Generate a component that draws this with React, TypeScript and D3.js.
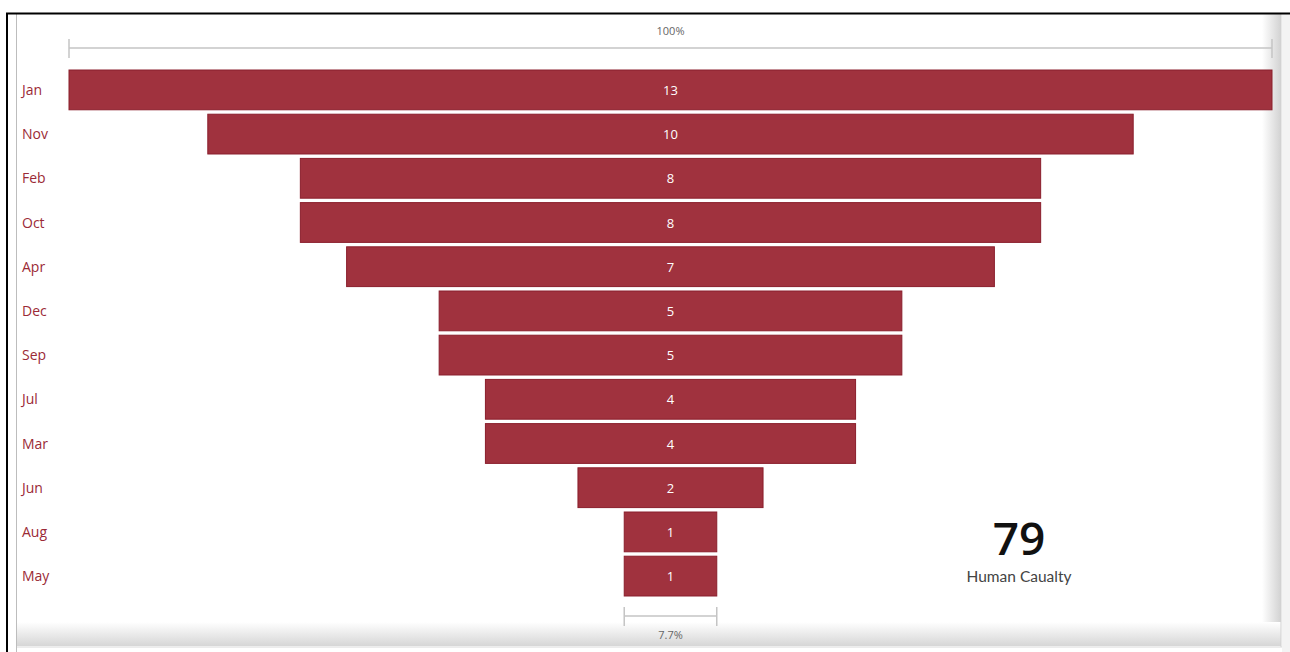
import React from "react";
import * as d3 from "d3";

const months = ["Jan", "Nov", "Feb", "Oct", "Apr", "Dec", "Sep", "Jul", "Mar", "Jun", "Aug", "May"];
const values = [13, 10, 8, 8, 7, 5, 5, 4, 4, 2, 1, 1];
const cardValue = 79;
const cardLabel = "Human Caualty";

const W = 1290;
const H = 652;
const FONT = "'Open Sans', 'Noto Sans', sans-serif";

export default function App() {
  const cx = 670.5;
  const maxV = d3.max(values) as number;
  const minV = d3.min(values) as number;
  const w = d3.scaleLinear().domain([0, maxV]).range([0, 1203]);
  const y = d3.scaleBand<string>().domain(months).range([67.8, 598.2]).paddingInner(0.1).paddingOuter(0.05);
  const fmt = (v: number) => `${+(v * 100).toFixed(1)}%`;
  const topPct = fmt(maxV / maxV);
  const botPct = fmt(minV / maxV);
  const lastIdx = values.length - 1;
  const botW = w(values[lastIdx]);
  const gray = "#c4c4c4";

  return (
    <svg width={W} height={H} style={{ position: "absolute", left: 0, top: 0, background: "#fff" }} fontFamily={FONT}>
      <defs>
        <linearGradient id="shB" x1="0" y1="0" x2="0" y2="1">
          <stop offset="0" stopColor="#fff" />
          <stop offset="1" stopColor="#d6d6d6" />
        </linearGradient>
        <linearGradient id="shR" x1="0" y1="0" x2="1" y2="0">
          <stop offset="0" stopColor="#fff" />
          <stop offset="1" stopColor="#d2d2d2" />
        </linearGradient>
      </defs>
      {/* frame */}
      <rect x={0} y={0} width={W} height={H} fill="#fff" />
      <rect x={1282} y={14} width={8} height={638} fill="#f3f3f3" />
      <rect x={1262} y={14} width={19} height={632} fill="url(#shR)" />
      <rect x={17} y={622} width={1264} height={24} fill="url(#shB)" />
      <line x1={1281} y1={14} x2={1281} y2={647} stroke="#d0d0d0" />
      <line x1={17} y1={647} x2={1282} y2={647} stroke="#dadada" />
      <line x1={16.5} y1={14} x2={16.5} y2={652} stroke="#bdbdbd" />
      <line x1={6} y1={13.5} x2={1290} y2={13.5} stroke="#000" strokeWidth={2} />
      <line x1={7} y1={13} x2={7} y2={652} stroke="#000" strokeWidth={2} />

      {/* top whisker */}
      <g stroke={gray} strokeWidth={1.5}>
        <line x1={cx - w(maxV) / 2} x2={cx + w(maxV) / 2} y1={48} y2={48} />
        <line x1={cx - w(maxV) / 2} x2={cx - w(maxV) / 2} y1={39} y2={58} />
        <line x1={cx + w(maxV) / 2} x2={cx + w(maxV) / 2} y1={39} y2={58} />
      </g>
      <text x={cx} y={35} textAnchor="middle" fontSize={11} fill="#666">{topPct}</text>

      {/* bars */}
      {months.map((m, i) => {
        const bw = w(values[i]);
        const by = y(m) as number;
        const bh = y.bandwidth();
        return (
          <g key={m}>
            <rect x={cx - bw / 2} y={by} width={bw} height={bh} fill="#a0323e" stroke="#8a1e2b" strokeWidth={1} />
            <text x={cx} y={by + bh / 2 + 5} textAnchor="middle" fontSize={13} fill="#fff">{values[i]}</text>
            <text x={22} y={by + bh / 2 + 5} fontSize={14} fill="#9b2a36">{m}</text>
          </g>
        );
      })}

      {/* bottom whisker */}
      <g stroke={gray} strokeWidth={1.5}>
        <line x1={cx - botW / 2} x2={cx + botW / 2} y1={616} y2={616} />
        <line x1={cx - botW / 2} x2={cx - botW / 2} y1={607} y2={626} />
        <line x1={cx + botW / 2} x2={cx + botW / 2} y1={607} y2={626} />
      </g>
      <text x={cx} y={639} textAnchor="middle" fontSize={11} fill="#666">{botPct}</text>

      {/* card */}
      <text x={1019} y={555} textAnchor="middle" fontSize={46} fontWeight={600} fill="#111">{cardValue}</text>
      <text x={1019} y={582} textAnchor="middle" fontSize={15.5} fill="#444" fontFamily="Lato, sans-serif">{cardLabel}</text>
    </svg>
  );
}
